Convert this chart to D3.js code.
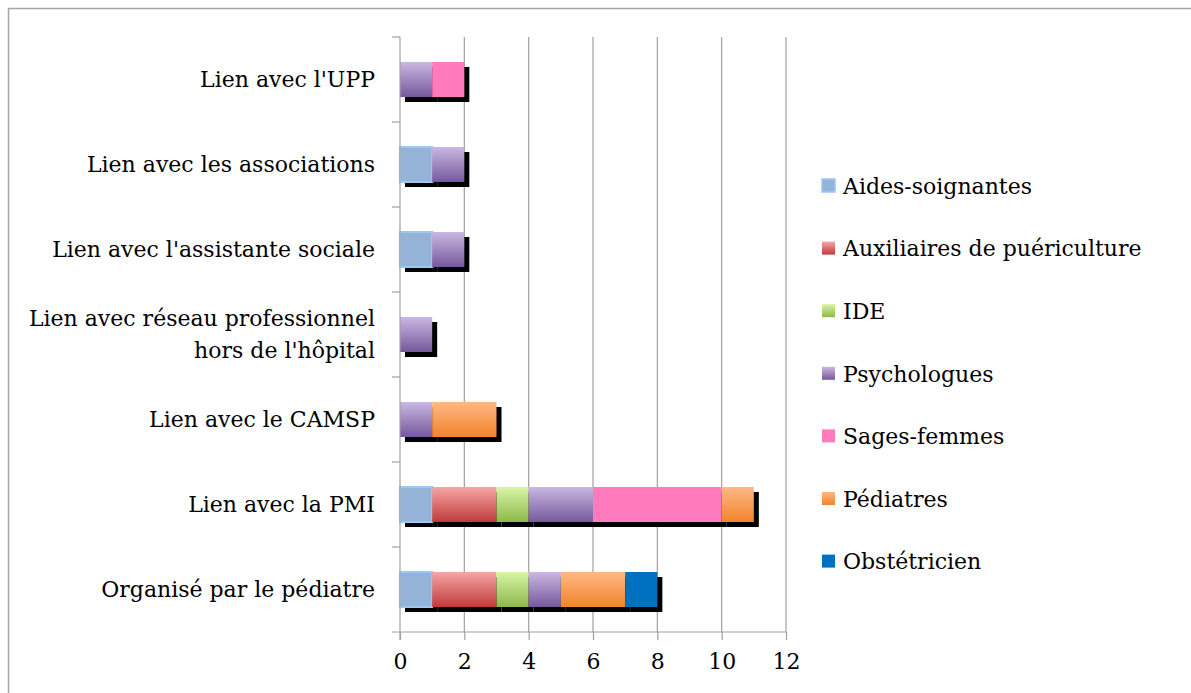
<!DOCTYPE html>
<html>
<head>
<meta charset="utf-8">
<script src="https://cdn.jsdelivr.net/npm/d3@7"></script>
<style>
    body { margin: 0; background: #fff; }
    text { font-family: "DejaVu Serif", serif; fill: #000; }
</style>
</head>
<body>
<div id="chart"></div>
<script>
// categories, top to bottom
const categories = [
    "Lien avec l'UPP",
    'Lien avec les associations',
    "Lien avec l'assistante sociale",
    "Lien avec réseau professionnel\nhors de l'hôpital",
    'Lien avec le CAMSP',
    'Lien avec la PMI',
    'Organisé par le pédiatre'
];

const seriesNames = ['Aides-soignantes', 'Auxiliaires de puériculture', 'IDE', 'Psychologues', 'Sages-femmes', 'Pédiatres', 'Obstétricien'];

// values per series, same order as categories
const aidesSoignantes = [0, 1, 1, 0, 0, 1, 1];
const auxiliaires = [0, 0, 0, 0, 0, 2, 2];
const ide = [0, 0, 0, 0, 0, 1, 1];
const psychologues = [1, 1, 1, 1, 1, 2, 1];
const sagesFemmes = [1, 0, 0, 0, 0, 4, 0];
const pediatres = [0, 0, 0, 0, 2, 1, 2];
const obstetricien = [0, 0, 0, 0, 0, 0, 1];

const xTicks = [0, 2, 4, 6, 8, 10, 12];

const seriesValues = [aidesSoignantes, auxiliaires, ide, psychologues, sagesFemmes, pediatres, obstetricien];

// fills: [top, bottom] gradient, flat if equal
const fills = [
    ['#95b3d7', '#95b3d7'],
    ['#f6a6a5', '#bf3b3a'],
    ['#d8f5a6', '#8eb84a'],
    ['#c9b8e3', '#76589c'],
    ['#ff7bbd', '#ff7bbd'],
    ['#fdb886', '#f2842b'],
    ['#0070c0', '#0070c0']
];

const width = 1191, height = 693;
const margin = { top: 37, left: 400, bottom: 61 };
const fontSize = 22;

const svg = d3.select('#chart').append('svg')
    .attr('width', width)
    .attr('height', height);

const defs = svg.append('defs');
fills.forEach((f, i) => {
    const g = defs.append('linearGradient')
        .attr('id', 'grad' + i)
        .attr('x1', 0).attr('y1', 0).attr('x2', 0).attr('y2', 1);
    g.append('stop').attr('offset', '0%').attr('stop-color', f[0]);
    g.append('stop').attr('offset', '100%').attr('stop-color', f[1]);
});

// outer frame (left and top edges visible)
svg.append('path')
    .attr('d', 'M8.5,' + height + 'V8.5H' + width)
    .attr('fill', 'none')
    .attr('stroke', '#a6a6a6')
    .attr('stroke-width', 1.5);

const x = d3.scaleLinear().domain([0, 12]).range([margin.left, 786]);
const y = d3.scaleBand()
    .domain(categories)
    .range([margin.top, height - margin.bottom])
    .paddingInner(0.588)
    .paddingOuter(0.294);

const axisY = height - margin.bottom;

// gridlines
svg.append('g')
    .selectAll('line')
    .data(xTicks.slice(1))
    .join('line')
    .attr('x1', d => x(d)).attr('x2', d => x(d))
    .attr('y1', margin.top).attr('y2', axisY)
    .attr('stroke', '#a0a0a0')
    .attr('stroke-width', 1.2);

// stacked data
const rows = categories.map((c, ci) => {
    const row = { cat: c };
    seriesNames.forEach((s, si) => { row[s] = seriesValues[si][ci]; });
    return row;
});
const stacked = d3.stack().keys(seriesNames)(rows);

const segs = [];
stacked.forEach((layer, si) => {
    layer.forEach(d => {
        if (d[1] - d[0] > 0) segs.push({ si: si, cat: d.data.cat, x0: d[0], x1: d[1] });
    });
});

// shadows
svg.append('g')
    .selectAll('rect')
    .data(segs)
    .join('rect')
    .attr('x', d => x(d.x0) + 5)
    .attr('y', d => y(d.cat) + 5)
    .attr('width', d => x(d.x1) - x(d.x0))
    .attr('height', y.bandwidth())
    .attr('fill', '#000');

// bars
svg.append('g')
    .selectAll('rect')
    .data(segs)
    .join('rect')
    .attr('x', d => x(d.x0))
    .attr('y', d => y(d.cat))
    .attr('width', d => x(d.x1) - x(d.x0))
    .attr('height', y.bandwidth())
    .attr('fill', d => 'url(#grad' + d.si + ')')
    .attr('stroke', d => d.si === 0 ? '#9cc8f5' : 'none')
    .attr('stroke-width', 2);

// x axis
const xAxis = d3.axisBottom(x).tickValues(xTicks).tickSize(8).tickPadding(13).tickSizeOuter(0);
const gx = svg.append('g')
    .attr('transform', 'translate(0,' + axisY + ')')
    .call(xAxis);
gx.select('.domain').attr('stroke', '#a0a0a0').attr('stroke-width', 1.2).attr('d', 'M392,0H786');
gx.selectAll('.tick line').attr('stroke', '#a0a0a0').attr('stroke-width', 1.2);
gx.selectAll('.tick text').attr('font-size', fontSize).attr('font-family', '"DejaVu Serif", serif').attr('fill', '#000');

// y axis line and ticks at band edges
const gy = svg.append('g');
gy.append('line')
    .attr('x1', margin.left).attr('x2', margin.left)
    .attr('y1', margin.top).attr('y2', axisY + 8)
    .attr('stroke', '#a0a0a0').attr('stroke-width', 1.2);
const edges = categories.map(c => y(c) - y.step() * y.paddingInner() / 2);
gy.selectAll('line.tk')
    .data(edges)
    .join('line')
    .attr('class', 'tk')
    .attr('x1', margin.left - 8).attr('x2', margin.left)
    .attr('y1', d => d).attr('y2', d => d)
    .attr('stroke', '#a0a0a0').attr('stroke-width', 1.2);

// category labels
categories.forEach(c => {
    const lines = c.split('\n');
    const cy = y(c) + y.bandwidth() / 2;
    const t = svg.append('text')
        .attr('x', 375)
        .attr('text-anchor', 'end')
        .attr('font-size', fontSize);
    lines.forEach((l, i) => {
        t.append('tspan')
            .attr('x', 375)
            .attr('y', cy + (i - (lines.length - 1) / 2) * 32)
            .attr('dy', '0.35em')
            .text(l);
    });
});

// legend
const legend = svg.append('g');
seriesNames.forEach((s, i) => {
    const ly = 186 + i * 62.6;
    legend.append('rect')
        .attr('x', 822).attr('y', ly - 7)
        .attr('width', 13).attr('height', 13)
        .attr('fill', 'url(#grad' + i + ')')
        .attr('stroke', i === 0 ? '#9cc8f5' : 'none')
        .attr('stroke-width', 1.5);
    legend.append('text')
        .attr('x', 843).attr('y', ly)
        .attr('dy', '0.35em')
        .attr('font-size', fontSize)
        .text(s);
});
</script>
</body>
</html>
